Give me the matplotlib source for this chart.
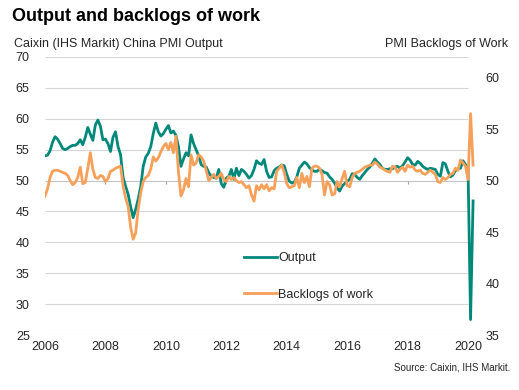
import numpy as np
import matplotlib
matplotlib.use("Agg")
import matplotlib.pyplot as plt
from matplotlib.lines import Line2D

plt.rcParams['font.family'] = ['Liberation Sans', 'DejaVu Sans']

# ---- data (monthly, Jan 2006 - Mar 2020) ----
start_year = 2006
output = [
    54.0, 54.1, 54.8, 56.2, 57.1, 56.7, 56.0, 55.2, 55.0, 55.2, 55.5, 55.7,  # 2006
    55.7, 56.0, 56.6, 55.8, 57.0, 58.6, 57.5, 56.5, 59.0, 59.8, 58.8, 56.6,  # 2007
    56.7, 56.0, 54.7, 57.0, 57.9, 55.5, 54.2, 50.5, 49.1, 47.8, 45.8, 44.0,  # 2008
    45.3, 47.0, 49.0, 52.3, 53.8, 54.4, 55.5, 57.6, 59.3, 57.9, 57.2, 57.6,  # 2009
    58.3, 58.9, 57.7, 58.0, 57.3, 55.5, 52.3, 53.5, 54.5, 54.0, 57.4, 56.0,  # 2010
    55.0, 54.0, 52.6, 52.3, 52.2, 51.3, 50.7, 50.5, 50.4, 51.8, 49.5, 48.9,  # 2011
    50.4, 50.7, 51.8, 50.2, 52.0, 50.8, 51.8, 51.5, 51.0, 50.4, 50.8, 51.8,  # 2012
    53.2, 52.8, 52.6, 53.4, 51.5, 50.5, 50.6, 51.6, 52.0, 52.2, 52.5, 52.4,  # 2013
    51.0, 49.9, 49.6, 49.7, 50.6, 52.0, 52.5, 53.0, 52.7, 52.1, 51.7, 51.5,  # 2014
    51.5, 51.8, 51.6, 51.3, 51.2, 50.6, 50.2, 49.6, 48.8, 48.3, 49.1, 49.5,  # 2015
    49.9, 50.2, 51.1, 51.0, 50.5, 50.2, 50.8, 51.3, 51.8, 52.2, 52.8, 53.5,  # 2016
    53.0, 52.6, 52.0, 51.8, 51.8, 51.9, 51.9, 52.2, 52.3, 52.0, 52.4, 53.0,  # 2017
    53.7, 53.3, 52.6, 52.5, 53.1, 52.8, 52.3, 52.0, 51.8, 52.0, 51.9, 51.8,  # 2018
    51.0, 50.7, 52.9, 52.7, 51.5, 50.6, 50.9, 51.6, 51.9, 52.0, 53.2, 52.6,  # 2019
    51.9, 27.5, 46.7,                                                        # 2020
]
backlogs = [
    48.5, 49.2, 50.3, 50.9, 51.0, 51.0, 50.9, 50.8, 50.7, 50.5, 50.0, 49.6,  # 2006
    49.8, 50.3, 51.3, 49.7, 49.8, 51.2, 52.7, 51.1, 50.3, 50.2, 50.5, 50.4,  # 2007
    49.9, 50.2, 50.9, 51.0, 51.2, 51.3, 51.4, 49.5, 48.3, 47.5, 45.5, 44.3,  # 2008
    44.9, 47.2, 48.8, 49.9, 50.3, 50.5, 51.1, 52.3, 51.9, 52.2, 52.8, 53.3,  # 2009
    53.6, 53.0, 53.7, 52.7, 54.3, 50.8, 48.5, 49.1, 50.2, 49.4, 52.5, 51.5,  # 2010
    51.7, 52.5, 52.3, 51.9, 51.0, 50.0, 50.3, 50.6, 50.2, 50.4, 50.7, 50.1,  # 2011
    49.9, 50.4, 50.1, 50.3, 50.0, 49.8, 49.9, 49.6, 49.3, 49.5, 48.6, 48.0,  # 2012
    49.5, 49.1, 49.6, 49.2, 49.6, 49.0, 49.3, 49.2, 50.9, 51.2, 51.5, 50.8,  # 2013
    49.7, 49.3, 49.4, 49.5, 50.3, 49.3, 50.7, 49.8, 50.4, 49.4, 51.2, 51.4,  # 2014
    51.4, 51.2, 50.6, 48.6, 49.9, 49.6, 48.6, 48.7, 49.9, 49.4, 50.2, 50.9,  # 2015
    49.5, 49.4, 50.3, 50.7, 50.8, 50.9, 51.1, 51.3, 51.4, 51.5, 51.5, 51.8,  # 2016
    51.6, 51.3, 51.2, 51.0, 50.9, 50.8, 51.4, 51.3, 50.8, 51.1, 51.3, 50.9,  # 2017
    51.5, 51.3, 51.4, 51.0, 50.9, 51.0, 50.7, 50.6, 50.8, 51.0, 50.8, 50.6,  # 2018
    49.9, 49.8, 50.3, 50.1, 50.3, 50.6, 50.7, 51.2, 51.0, 52.0, 51.7, 51.4,  # 2019
    50.1, 56.5, 51.5,                                                        # 2020
]
year_ticks = [2006, 2008, 2010, 2012, 2014, 2016, 2018, 2020]
left_ticks = [25, 30, 35, 40, 45, 50, 55, 60, 65, 70]
right_ticks = [35, 40, 45, 50, 55, 60]

x = start_year + np.arange(len(output)) / 12.0

teal = '#00897b'
orange = '#f7a05a'
grid_c = '#d6d6d6'
txt_c = '#262626'

W, H = 519, 390
fig = plt.figure(figsize=(W / 100, H / 100), dpi=100)
ax = fig.add_axes([45 / W, 1 - 335 / H, (475.6 - 45) / W, (335 - 57) / H])
ax2 = ax.twinx()

ax.set_xlim(2006, 2020.25)
ax.set_ylim(25, 70)
ax2.set_ylim(35, 62)

# gridlines
for t in left_ticks:
    ax.hlines(t, 2006, 2020, color=('#c4c4c4' if t == 50 else grid_c), lw=0.8, zorder=0)
ax.vlines(year_ticks[1:-1], 49.5, 50, color='#a0a0a0', lw=0.8, zorder=0)

ax.plot(x, output, color=teal, lw=2.0, solid_joinstyle='round', zorder=3)
ax2.plot(x, backlogs, color=orange, lw=2.0, solid_joinstyle='round', zorder=3)

for a in (ax, ax2):
    for s in a.spines.values():
        s.set_visible(False)

ax.set_xticks(year_ticks)
ax.set_xticklabels([str(y) for y in year_ticks])
ax.set_yticks(left_ticks)
ax2.set_yticks(right_ticks)
ax.tick_params(axis='x', length=0, pad=4, labelsize=9, colors=txt_c)
ax.tick_params(axis='y', length=0, pad=11, labelsize=9, colors=txt_c)
ax2.tick_params(axis='y', length=0, pad=7, labelsize=9, colors=txt_c)

handles = [Line2D([], [], color=teal, lw=2.0), Line2D([], [], color=orange, lw=2.0)]
leg = ax2.legend(handles, ['Output', 'Backlogs of work'], loc='center left',
                 bbox_to_anchor=(244 / W, 1 - 276.5 / H), bbox_transform=fig.transFigure,
                 frameon=False, fontsize=9, handlelength=2.6, handletextpad=0.15,
                 labelspacing=1.95, borderpad=0, borderaxespad=0)
for t in leg.get_texts():
    t.set_color(txt_c)

fig.text(12 / W, 1 - 21 / H, 'Output and backlogs of work', fontsize=13, fontweight='bold',
         color='#000000', va='baseline', ha='left')
fig.text(14 / W, 1 - 46.5 / H, 'Caixin (IHS Markit) China PMI Output', fontsize=9,
         color=txt_c, va='baseline', ha='left')
fig.text(508 / W, 1 - 46.5 / H, 'PMI Backlogs of Work', fontsize=9,
         color=txt_c, va='baseline', ha='right')
fig.text(510 / W, 1 - 370 / H, 'Source: Caixin, IHS Markit.', fontsize=7,
         color=txt_c, va='baseline', ha='right')

fig.savefig('out.png', dpi=100)
